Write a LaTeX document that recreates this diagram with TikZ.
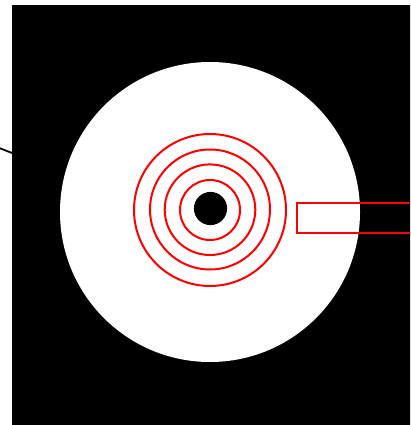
\documentclass[tikz,border=0pt]{standalone}
\begin{document}
\begin{tikzpicture}[x=1pt,y=-1pt,
  ring/.style={draw=red,line width=2pt},
  lead/.style={draw=black,line width=1.8pt}]
\useasboundingbox (0,0) rectangle (410,425);
\begin{scope}
\clip (0,0) rectangle (410,425);
\fill[black] (12,5) rectangle (420,430);
\fill[white] (210,212) circle[radius=150];
\draw[ring] (210,210) circle[radius=76];
\draw[ring] (210,209.5) circle[radius=60];
\draw[ring] (210,209.7) circle[radius=45.3];
\draw[ring] (210,210) circle[radius=30];
\fill[black] (210.5,208.5) circle[radius=16.6];
\draw[ring] (420,202.5) -- (297,202.5) -- (297,232.5) -- (420,232.5);
\coordinate (a) at (-2,147.5);
\coordinate (b) at (12,153);
\draw[lead] (a) -- (b);
\end{scope}
\end{tikzpicture}
\end{document}
